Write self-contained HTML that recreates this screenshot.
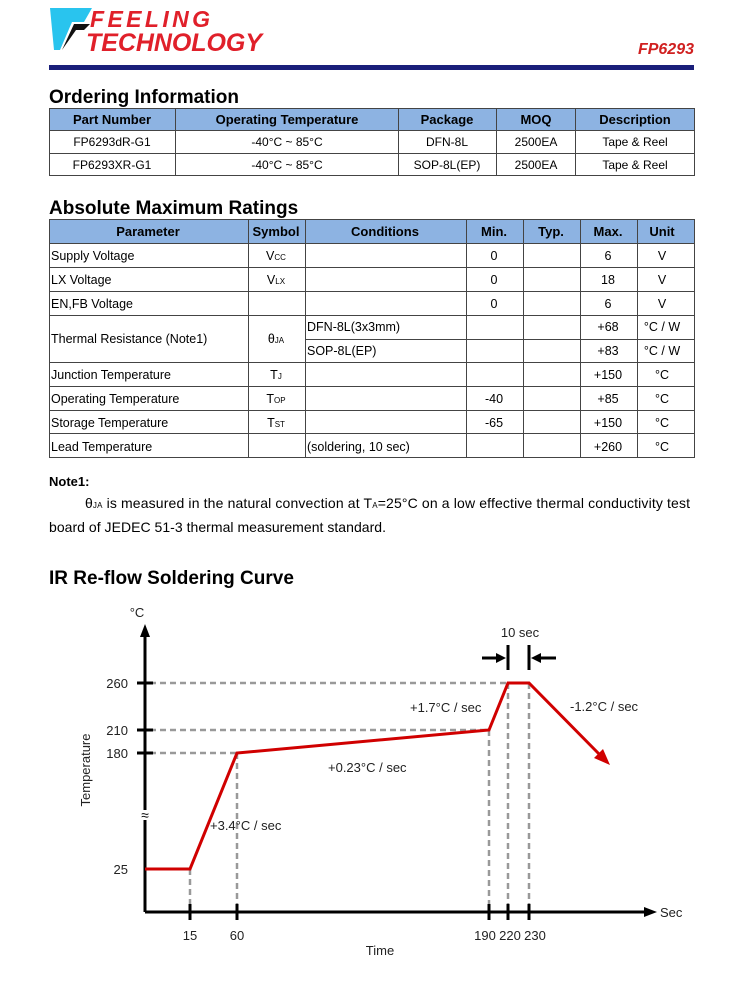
<!DOCTYPE html>
<html><head><meta charset="utf-8"><style>
body{margin:0;background:#fff}
svg text{font-family:"Liberation Sans",Arial,sans-serif}
</style></head><body>
<svg width="750" height="1000" viewBox="0 0 750 1000" xmlns="http://www.w3.org/2000/svg">
<!-- logo -->
<polygon points="50,8 92,8 84,22 72,22 60,50 54,50" fill="#29c4ee"/>
<path d="M62,50 L74,24 L90,24 L84,30 L76,30 Z" fill="#111"/>
<text x="90" y="27" font-size="23" font-weight="bold" font-style="italic" fill="#e0202a" textLength="120">FEELING</text>
<text x="86" y="51" font-size="25" font-weight="bold" font-style="italic" fill="#e0202a" textLength="176">TECHNOLOGY</text>
<text x="694" y="54" font-size="16" font-weight="bold" font-style="italic" fill="#d02020" text-anchor="end">FP6293</text>
<rect x="49" y="65" width="645" height="5" fill="#1a1f7a"/>

<text x="49" y="103" font-size="19" font-weight="bold" fill="#000">Ordering Information</text>
<rect x="49" y="108" width="646" height="22" fill="#8db3e2"/>
<g stroke="#444" stroke-width="1" fill="none">
<rect x="49.5" y="108.5" width="645" height="67"/>
<line x1="49" y1="130.5" x2="695" y2="130.5"/><line x1="49" y1="153.5" x2="695" y2="153.5"/>
<line x1="175.5" y1="108" x2="175.5" y2="176"/><line x1="398.5" y1="108" x2="398.5" y2="176"/>
<line x1="496.5" y1="108" x2="496.5" y2="176"/><line x1="575.5" y1="108" x2="575.5" y2="176"/>
</g>
<g font-size="13" font-weight="bold" text-anchor="middle">
<text x="112" y="124">Part Number</text><text x="287" y="124">Operating Temperature</text>
<text x="447" y="124">Package</text><text x="536" y="124">MOQ</text><text x="635" y="124">Description</text></g>
<g font-size="12" text-anchor="middle">
<text x="112" y="146">FP6293dR-G1</text><text x="287" y="146">-40°C ~ 85°C</text>
<text x="447" y="146">DFN-8L</text><text x="536" y="146">2500EA</text><text x="635" y="146">Tape &amp; Reel</text>
<text x="112" y="169">FP6293XR-G1</text><text x="287" y="169">-40°C ~ 85°C</text>
<text x="447" y="169">SOP-8L(EP)</text><text x="536" y="169">2500EA</text><text x="635" y="169">Tape &amp; Reel</text></g>

<text x="49" y="214" font-size="19" font-weight="bold">Absolute Maximum Ratings</text>
<rect x="49" y="219" width="646" height="24" fill="#8db3e2"/>
<g stroke="#444" stroke-width="1" fill="none">
<rect x="49.5" y="219.5" width="645" height="238"/>
<line x1="49" y1="243.5" x2="695" y2="243.5"/><line x1="49" y1="267.5" x2="695" y2="267.5"/>
<line x1="49" y1="291.5" x2="695" y2="291.5"/><line x1="49" y1="315.5" x2="695" y2="315.5"/>
<line x1="305" y1="339.5" x2="695" y2="339.5"/>
<line x1="49" y1="362.5" x2="695" y2="362.5"/><line x1="49" y1="386.5" x2="695" y2="386.5"/>
<line x1="49" y1="410.5" x2="695" y2="410.5"/><line x1="49" y1="433.5" x2="695" y2="433.5"/>
<line x1="248.5" y1="219" x2="248.5" y2="458"/><line x1="305.5" y1="219" x2="305.5" y2="458"/>
<line x1="466.5" y1="219" x2="466.5" y2="458"/><line x1="523.5" y1="219" x2="523.5" y2="458"/>
<line x1="580.5" y1="219" x2="580.5" y2="458"/><line x1="637.5" y1="219" x2="637.5" y2="458"/>
</g>
<g font-size="13" font-weight="bold" text-anchor="middle">
<text x="148" y="236">Parameter</text><text x="276" y="236">Symbol</text><text x="385" y="236">Conditions</text>
<text x="494" y="236">Min.</text><text x="551" y="236">Typ.</text><text x="608" y="236">Max.</text><text x="662" y="236">Unit</text></g>
<g font-size="12.5">
<text x="51" y="260">Supply Voltage</text><text x="51" y="284">LX Voltage</text><text x="51" y="308">EN,FB Voltage</text>
<text x="51" y="343">Thermal Resistance (Note1)</text><text x="51" y="379">Junction Temperature</text>
<text x="51" y="403">Operating Temperature</text><text x="51" y="427">Storage Temperature</text><text x="51" y="451">Lead Temperature</text>
<text x="307" y="331">DFN-8L(3x3mm)</text><text x="307" y="355">SOP-8L(EP)</text><text x="307" y="451">(soldering, 10 sec)</text>
</g>
<g font-size="12.5" text-anchor="middle">
<text x="276" y="260">V<tspan font-size="8">CC</tspan></text><text x="276" y="284">V<tspan font-size="8">LX</tspan></text>
<text x="276" y="343">θ<tspan font-size="8">JA</tspan></text><text x="276" y="379">T<tspan font-size="8">J</tspan></text>
<text x="276" y="403">T<tspan font-size="8">OP</tspan></text><text x="276" y="427">T<tspan font-size="8">ST</tspan></text>
<text x="494" y="260">0</text><text x="494" y="284">0</text><text x="494" y="308">0</text>
<text x="494" y="403">-40</text><text x="494" y="427">-65</text>
<text x="608" y="260">6</text><text x="608" y="284">18</text><text x="608" y="308">6</text>
<text x="608" y="331">+68</text><text x="608" y="355">+83</text><text x="608" y="379">+150</text>
<text x="608" y="403">+85</text><text x="608" y="427">+150</text><text x="608" y="451">+260</text>
<text x="662" y="260">V</text><text x="662" y="284">V</text><text x="662" y="308">V</text>
<text x="662" y="331">°C / W</text><text x="662" y="355">°C / W</text><text x="662" y="379">°C</text>
<text x="662" y="403">°C</text><text x="662" y="427">°C</text><text x="662" y="451">°C</text>
</g>
<text x="49" y="486" font-size="13" font-weight="bold">Note1:</text>
<text x="85" y="508" font-size="14" textLength="605">θ<tspan font-size="8">JA</tspan> is measured in the natural convection at T<tspan font-size="8">A</tspan>=25°C on a low effective thermal conductivity test</text>
<text x="49" y="532" font-size="14" textLength="337">board of JEDEC 51-3 thermal measurement standard.</text>

<text x="49" y="584" font-size="19" font-weight="bold">IR Re-flow Soldering Curve</text>

<!-- chart -->
<g stroke="#999" stroke-width="2.5" stroke-dasharray="6,4" fill="none">
<line x1="150" y1="683" x2="508" y2="683"/><line x1="150" y1="730" x2="489" y2="730"/><line x1="150" y1="753" x2="237" y2="753"/>
<line x1="190" y1="869" x2="190" y2="910"/><line x1="237" y1="753" x2="237" y2="910"/>
<line x1="489" y1="730" x2="489" y2="910"/><line x1="508" y1="683" x2="508" y2="910"/><line x1="529" y1="683" x2="529" y2="910"/>
</g>
<g stroke="#000" stroke-width="3" fill="none">
<line x1="145" y1="636" x2="145" y2="912"/><line x1="145" y1="912" x2="645" y2="912"/>
<line x1="137" y1="683" x2="153" y2="683"/><line x1="137" y1="730" x2="153" y2="730"/><line x1="137" y1="753" x2="153" y2="753"/>
<line x1="190" y1="904" x2="190" y2="920"/><line x1="237" y1="904" x2="237" y2="920"/>
<line x1="489" y1="904" x2="489" y2="920"/><line x1="508" y1="904" x2="508" y2="920"/><line x1="529" y1="904" x2="529" y2="920"/>
<line x1="508" y1="645" x2="508" y2="670"/><line x1="529" y1="645" x2="529" y2="670"/>
<line x1="482" y1="658" x2="498" y2="658"/><line x1="540" y1="658" x2="556" y2="658"/>
</g>
<polygon points="145,624 140,637 150,637" fill="#000"/>
<polygon points="657,912 644,907 644,917" fill="#000"/>
<polygon points="506,658 496,653 496,663" fill="#000"/>
<polygon points="531,658 541,653 541,663" fill="#000"/>
<rect x="139" y="810" width="12" height="10" fill="#fff"/>
<text x="145" y="820" font-size="14" text-anchor="middle">≈</text>
<polyline points="145,869 190,869 237,753 489,730 508,683 529,683 602,757" stroke="#d00000" stroke-width="3" fill="none"/>
<polygon points="610,765 594,758 603,749" fill="#d00000"/>
<g font-size="13" fill="#222">
<text x="137" y="617" text-anchor="middle">°C</text>
<text x="128" y="688" text-anchor="end">260</text><text x="128" y="735" text-anchor="end">210</text>
<text x="128" y="758" text-anchor="end">180</text><text x="128" y="874" text-anchor="end">25</text>
<text x="190" y="940" text-anchor="middle">15</text><text x="237" y="940" text-anchor="middle">60</text>
<text x="485" y="940" text-anchor="middle">190</text><text x="510" y="940" text-anchor="middle">220</text><text x="535" y="940" text-anchor="middle">230</text>
<text x="380" y="955" text-anchor="middle">Time</text><text x="660" y="917">Sec</text>
<text x="520" y="637" text-anchor="middle">10 sec</text>
<text x="210" y="830">+3.4°C / sec</text><text x="328" y="772">+0.23°C / sec</text>
<text x="410" y="712">+1.7°C / sec</text><text x="570" y="711">-1.2°C / sec</text>
<text transform="translate(90,770) rotate(-90)" text-anchor="middle">Temperature</text>
</g>
</svg>
</body></html>
